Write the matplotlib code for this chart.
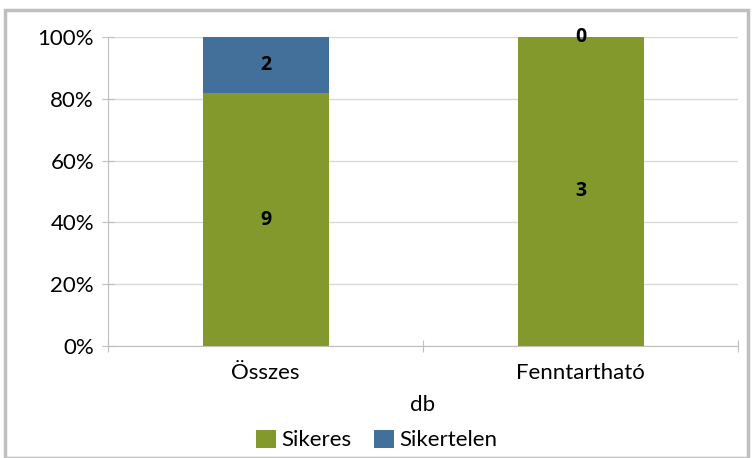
import matplotlib.pyplot as plt
import numpy as np
from matplotlib.patches import Rectangle

categories = ['Összes', 'Fenntartható']
sikeres = [9, 3]
sikertelen = [2, 0]
series_names = ['Sikeres', 'Sikertelen']

green = '#84992c'
blue = '#436f9b'

plt.rcParams['font.family'] = ['Lato', 'DejaVu Sans']

fig = plt.figure(figsize=(7.53, 4.58), dpi=100)
ax = fig.add_axes([108 / 753, 1 - 346 / 458, 630 / 753, 309 / 458])

total = np.array(sikeres) + np.array(sikertelen)
p1 = np.array(sikeres) / total * 100
p2 = np.array(sikertelen) / total * 100
x = np.arange(len(categories))

ax.bar(x, p1, width=0.4, color=green, label=series_names[0])
ax.bar(x, p2, width=0.4, bottom=p1, color=blue, label=series_names[1])

# adatfeliratok
for i in range(len(categories)):
    ax.text(x[i], p1[i] / 2, str(sikeres[i]), ha='center', va='center',
            fontsize=14, fontweight='bold', family=['Open Sans', 'DejaVu Sans'])
    ax.text(x[i], p1[i] + p2[i] / 2, str(sikertelen[i]), ha='center', va='center',
            fontsize=14, fontweight='bold', family=['Open Sans', 'DejaVu Sans'])

ax.set_xlim(-0.5, 1.5)
ax.set_ylim(0, 100)
ax.set_yticks(np.arange(0, 101, 20))
ax.set_yticklabels([f'{v}%' for v in range(0, 101, 20)], fontsize=16)
ax.yaxis.grid(True, color='#d9d9d9', linewidth=1)
ax.set_axisbelow(True)

ax.set_xticks([-0.5, 0.5, 1.5])
ax.set_xticklabels(['', '', ''])
ax.set_xticks(x, minor=True)
ax.set_xticklabels(categories, minor=True, fontsize=16)
ax.tick_params(axis='x', which='minor', length=0, pad=12)
ax.tick_params(axis='x', which='major', length=8, color='#bfbfbf', direction='inout')
ax.tick_params(axis='y', length=8, color='#bfbfbf', direction='inout', pad=6)

for s in ['top', 'right']:
    ax.spines[s].set_visible(False)
for s in ['left', 'bottom']:
    ax.spines[s].set_color('#bfbfbf')

ax.set_xlabel('db', fontsize=16, labelpad=9)

fig.legend(loc='center', bbox_to_anchor=(0.5, 1 - 440 / 458), ncol=2, frameon=False,
           fontsize=16, handlelength=0.9, handleheight=0.9, handletextpad=0.25,
           columnspacing=1.0)

fig.patches.append(Rectangle((5 / 753, 0), 743 / 753, 1 - 10 / 458, transform=fig.transFigure,
                             fill=False, edgecolor='#bfbfbf', linewidth=2.5))

fig.savefig('out.png', dpi=100)
